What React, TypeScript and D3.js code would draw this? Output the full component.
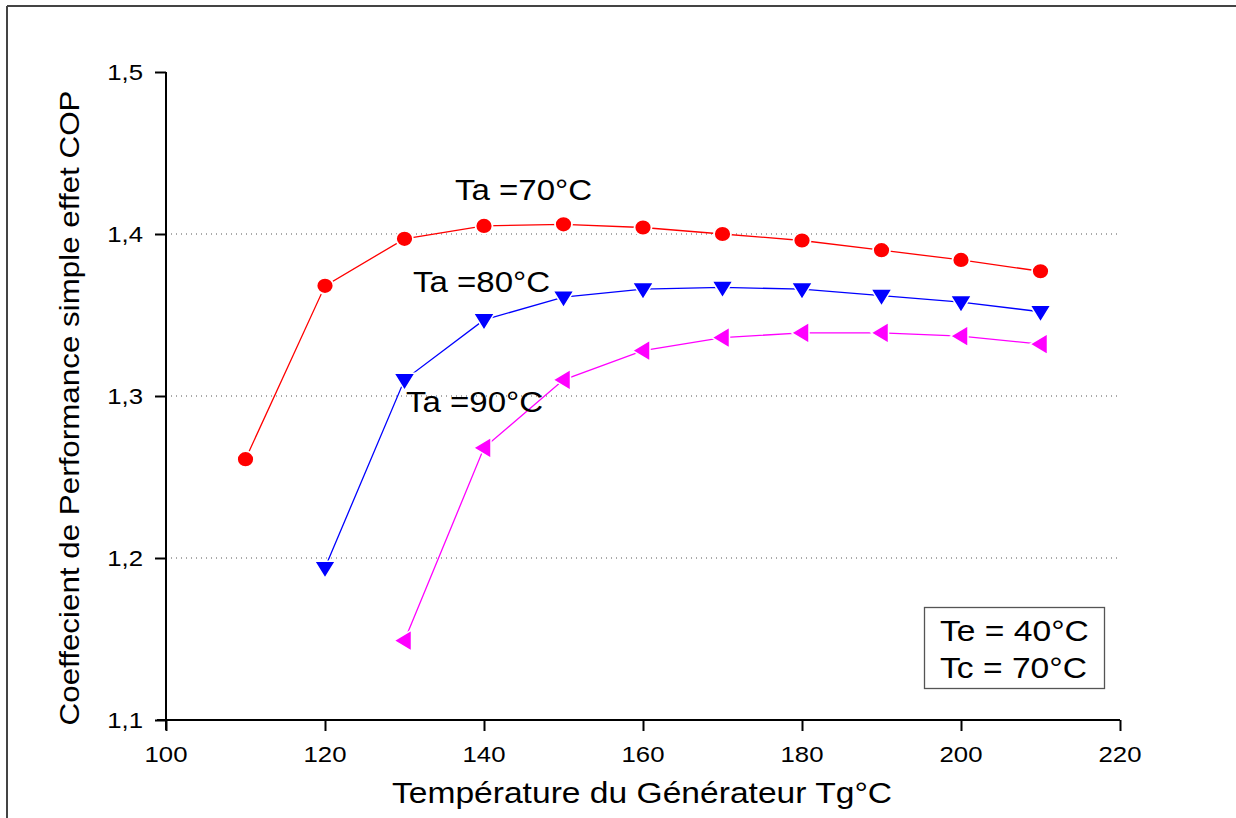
import * as d3 from 'd3';
import { useEffect, useRef } from 'react';

// Température du générateur (°C)
const tg = [110, 120, 130, 140, 150, 160, 170, 180, 190, 200, 210];

// COP pour chaque Ta
const copTa70 = [1.261, 1.368, 1.397, 1.405, 1.406, 1.404, 1.400, 1.396, 1.390, 1.384, 1.377];
const copTa80 = [null, 1.194, 1.310, 1.347, 1.361, 1.366, 1.367, 1.366, 1.362, 1.358, 1.352];
const copTa90 = [null, null, 1.149, 1.268, 1.310, 1.328, 1.336, 1.339, 1.339, 1.337, 1.332];

const xTicks = [100, 120, 140, 160, 180, 200, 220];
const yTicks = [1.1, 1.2, 1.3, 1.4, 1.5];
const gridValues = [1.2, 1.3, 1.4];

const series = [
    { name: 'Ta =70°C', values: copTa70, color: '#ff0000', shape: 'circle' },
    { name: 'Ta =80°C', values: copTa80, color: '#0000ff', shape: 'down' },
    { name: 'Ta =90°C', values: copTa90, color: '#ff00ff', shape: 'left' },
];

const FONT = '"Liberation Sans", Arial, sans-serif';
// the original text is a bit wider than Arial
const STRETCH = 1.12;

function App() {
    const ref = useRef<SVGSVGElement | null>(null);

    useEffect(() => {
        const svg = d3.select(ref.current);
        svg.selectAll('*').remove();

        const addText = (parent: any, x: number, y: number, str: string, size: number,
            anchor = 'start', rotate = 0) => {
            return parent.append('text')
                .attr('transform', `translate(${x},${y}) rotate(${rotate}) scale(${STRETCH},1)`)
                .attr('text-anchor', anchor)
                .attr('font-family', FONT)
                .attr('font-size', size)
                .attr('fill', '#000')
                .text(str);
        };

        const margin = { top: 72, left: 166 };
        const width = 954;
        const height = 648;

        // frame
        svg.append('line').attr('x1', 7).attr('y1', 6).attr('x2', 1236).attr('y2', 6)
            .attr('stroke', '#444').attr('stroke-width', 2);
        svg.append('line').attr('x1', 7).attr('y1', 6).attr('x2', 7).attr('y2', 818)
            .attr('stroke', '#444').attr('stroke-width', 2);

        const g = svg.append('g').attr('transform', `translate(${margin.left},${margin.top})`);

        const x = d3.scaleLinear().domain([100, 220]).range([0, width]);
        const y = d3.scaleLinear().domain([1.1, 1.5]).range([height, 0]);

        // dotted gridlines
        g.selectAll('.grid')
            .data(gridValues)
            .enter()
            .append('line')
            .attr('x1', 0)
            .attr('x2', width)
            .attr('y1', d => y(d))
            .attr('y2', d => y(d))
            .attr('stroke', '#555')
            .attr('stroke-width', 1)
            .attr('stroke-dasharray', '1,4');

        // x axis
        const xAxis = g.append('g').attr('transform', `translate(0,${height})`);
        xAxis.call(d3.axisBottom(x).tickValues(d3.range(110, 220, 20)).tickSize(6).tickFormat(() => ''));
        xAxis.call(d3.axisBottom(x).tickValues(xTicks).tickSize(11).tickFormat(() => ''));
        xAxis.selectAll('.domain').remove();
        xAxis.selectAll('text').remove();
        xAxis.append('line').attr('x1', -9).attr('x2', width).attr('stroke', '#000').attr('stroke-width', 2);
        xAxis.selectAll('.tick line').attr('stroke-width', 2);
        xTicks.forEach(t => addText(xAxis, x(t), 42, String(t), 23, 'middle'));

        // y axis
        const yAxis = g.append('g');
        yAxis.call(d3.axisLeft(y).tickValues(d3.range(1.15, 1.5, 0.1)).tickSize(6).tickFormat(() => ''));
        yAxis.call(d3.axisLeft(y).tickValues(yTicks).tickSize(11).tickFormat(() => ''));
        yAxis.selectAll('.domain').remove();
        yAxis.selectAll('text').remove();
        yAxis.append('line').attr('y1', 0).attr('y2', height + 10).attr('stroke', '#000').attr('stroke-width', 2);
        yAxis.selectAll('.tick line').attr('stroke-width', 2);
        yTicks.forEach(t => addText(yAxis, -23, y(t) + 8, d3.format('.1f')(t).replace('.', ','), 23, 'end'));

        // axis titles
        addText(svg, 642, 803, 'Température du Générateur Tg°C', 30, 'middle');
        addText(svg, 79, 408, 'Coeffecient de Performance simple effet COP', 28, 'middle', -90);

        // lines and markers
        const line = d3.line<[number, number | null]>()
            .defined(d => d[1] !== null)
            .x(d => x(d[0]))
            .y(d => y(d[1] as number));

        series.forEach(s => {
            const pts = tg.map((t, i) => [t, s.values[i]] as [number, number | null]);
            g.append('path')
                .attr('d', line(pts))
                .attr('fill', 'none')
                .attr('stroke', s.color)
                .attr('stroke-width', 1.3);

            const marks = g.selectAll(null)
                .data(pts.filter(p => p[1] !== null))
                .enter();

            if (s.shape === 'circle') {
                marks.append('ellipse')
                    .attr('cx', d => x(d[0]))
                    .attr('cy', d => y(d[1] as number))
                    .attr('rx', 8.5)
                    .attr('ry', 8)
                    .attr('fill', s.color)
                    .attr('stroke', '#fff')
                    .attr('stroke-width', 1.8);
            } else if (s.shape === 'down') {
                marks.append('path')
                    .attr('transform', d => `translate(${x(d[0])},${y(d[1] as number)})`)
                    .attr('d', 'M-10.5,-6.5L10.5,-6.5L0,10.5Z')
                    .attr('fill', s.color)
                    .attr('stroke', '#fff')
                    .attr('stroke-width', 1.5);
            } else {
                marks.append('path')
                    .attr('transform', d => `translate(${x(d[0])},${y(d[1] as number)})`)
                    .attr('d', 'M-10.5,0L7,-10.5L7,10.5Z')
                    .attr('fill', s.color)
                    .attr('stroke', '#fff')
                    .attr('stroke-width', 1.5);
            }
        });

        // series labels
        const labels = [
            { text: 'Ta =70°C', x: 455, y: 200 },
            { text: 'Ta =80°C', x: 413, y: 292 },
            { text: 'Ta =90°C', x: 406, y: 412 },
        ];
        labels.forEach(l => addText(svg, l.x, l.y, l.text, 29.5));

        // info box
        svg.append('rect')
            .attr('x', 924.5).attr('y', 607.5).attr('width', 180).attr('height', 81)
            .attr('fill', '#fff').attr('stroke', '#555').attr('stroke-width', 1.3);
        addText(svg, 940, 641, 'Te = 40°C', 30);
        addText(svg, 940, 678, 'Tc = 70°C', 30);
    }, []);

    return (
        <svg ref={ref} width={1236} height={818}
            style={{ position: 'absolute', left: 0, top: 0, background: '#fff' }} />
    );
}

export default App;
